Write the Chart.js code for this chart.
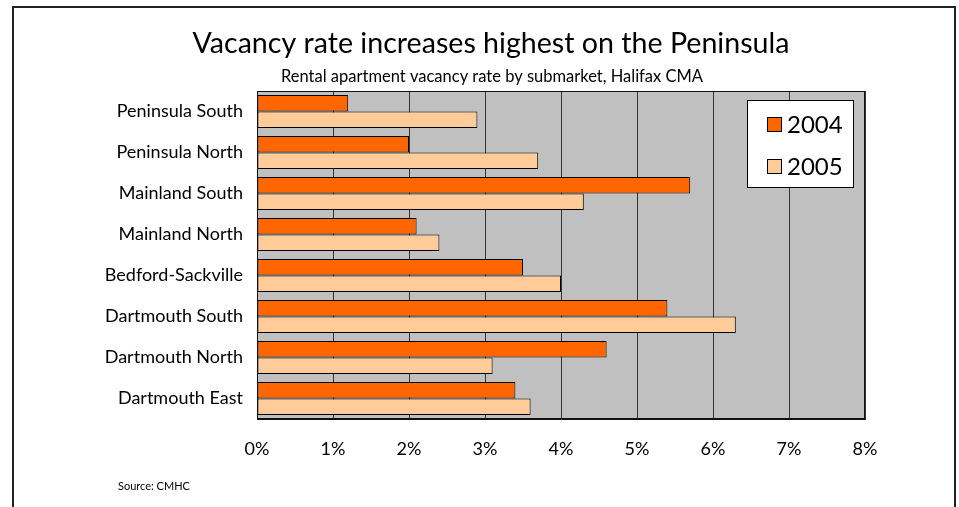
<!DOCTYPE html>
<html>
<head>
<meta charset="utf-8">
<script src="https://cdn.jsdelivr.net/npm/chart.js@4/dist/chart.umd.min.js"></script>
<style>
  html, body { margin: 0; padding: 0; background: #fff; }
  #wrap { position: relative; width: 959px; height: 507px; overflow: hidden; }
  #frame { position: absolute; left: 12px; top: 6px; width: 944px; height: 600px; border: 2px solid #222; box-sizing: border-box; }
  canvas { position: absolute; left: 0; top: 0; }
</style>
</head>
<body>
<div id="wrap">
  <div id="frame"></div>
  <canvas id="chart" width="959" height="507"></canvas>
</div>
<script>
const categories = ['Peninsula South', 'Peninsula North', 'Mainland South', 'Mainland North',
  'Bedford-Sackville', 'Dartmouth South', 'Dartmouth North', 'Dartmouth East'];
const rate2004 = [1.2, 2.0, 5.7, 2.1, 3.5, 5.4, 4.6, 3.4];
const rate2005 = [2.9, 3.7, 4.3, 2.4, 4.0, 6.3, 3.1, 3.6];
const tickLabels = ['0%', '1%', '2%', '3%', '4%', '5%', '6%', '7%', '8%'];
const titleText = 'Vacancy rate increases highest on the Peninsula';
const subtitleText = 'Rental apartment vacancy rate by submarket, Halifax CMA';
const sourceText = 'Source: CMHC';

const FONT = 'Lato, "Noto Sans", sans-serif';

// gray plot background plus frame, titles, source and the boxed legend
const decor = {
  id: 'decor',
  beforeDraw(chart) {
    const { ctx, chartArea: a } = chart;
    ctx.save();
    ctx.fillStyle = '#c0c0c0';
    ctx.fillRect(a.left, a.top, a.right - a.left, a.bottom - a.top);
    ctx.restore();
  },
  afterDraw(chart) {
    const { ctx, chartArea: a } = chart;
    ctx.save();
    ctx.strokeStyle = '#111';
    ctx.lineWidth = 1;
    ctx.strokeRect(a.left + 0.5, a.top + 0.5, a.right - a.left - 1, a.bottom - a.top - 1);

    ctx.fillStyle = '#000';
    ctx.textAlign = 'center';
    ctx.textBaseline = 'middle';
    ctx.font = '28.6px ' + FONT;
    ctx.fillText(titleText, 491, 44);
    ctx.font = '16.5px ' + FONT;
    ctx.fillText(subtitleText, 492, 77);
    ctx.font = '11px ' + FONT;
    ctx.textAlign = 'left';
    ctx.fillText(sourceText, 118, 486);

    // legend box
    ctx.fillStyle = '#fff';
    ctx.fillRect(747, 100, 106, 87);
    ctx.strokeStyle = '#000';
    ctx.strokeRect(747.5, 100.5, 106, 87);
    ctx.font = '24px ' + FONT;
    chart.data.datasets.forEach((ds, i) => {
      const y = 124 + i * 42;
      ctx.fillStyle = ds.backgroundColor;
      ctx.fillRect(767, y - 7, 14, 14);
      ctx.strokeStyle = '#000';
      ctx.strokeRect(767.5, y - 6.5, 14, 14);
      ctx.fillStyle = '#000';
      ctx.textAlign = 'left';
      ctx.fillText(ds.label, 787, y + 1);
    });
    ctx.restore();
  }
};

new Chart(document.getElementById('chart'), {
  type: 'bar',
  data: {
    labels: categories,
    datasets: [
      { label: '2004', data: rate2004, backgroundColor: '#ff6600', borderColor: '#000', borderWidth: 1, borderSkipped: false },
      { label: '2005', data: rate2005, backgroundColor: '#ffcc99', borderColor: '#000', borderWidth: 1, borderSkipped: false }
    ]
  },
  options: {
    indexAxis: 'y',
    responsive: false,
    animation: false,
    layout: { padding: { top: 91, right: 94, left: 0, bottom: 0 } },
    datasets: { bar: { categoryPercentage: 0.8, barPercentage: 1.0 } },
    plugins: {
      legend: { display: false },
      title: { display: false },
      tooltip: { enabled: false }
    },
    scales: {
      x: {
        min: 0, max: 8,
        ticks: {
          stepSize: 1,
          padding: 19,
          color: '#000',
          font: { family: FONT, size: 18 },
          callback: (v, i) => tickLabels[i]
        },
        grid: { color: '#333', drawTicks: false },
        border: { color: '#111' },
        afterFit: s => { s.height = 88; }
      },
      y: {
        ticks: { padding: 14, color: '#000', font: { family: FONT, size: 18 } },
        grid: { display: false, drawTicks: false },
        border: { color: '#111' },
        afterFit: s => { s.width = 257; }
      }
    }
  },
  plugins: [decor]
});
</script>
</body>
</html>
